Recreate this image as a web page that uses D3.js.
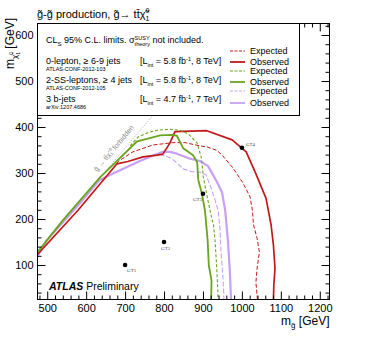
<!DOCTYPE html>
<html>
<head>
<meta charset="utf-8">
<script src="https://cdn.jsdelivr.net/npm/d3@7"></script>
<style>
body{margin:0;background:#fff;}
text{font-family:"Liberation Sans",Arial,Helvetica,sans-serif;fill:#000;white-space:pre;}
</style>
</head>
<body>
<svg id="chart" width="374" height="340"></svg>
<script>
// gluino mass (x) and neutralino mass (y), GeV
const xMajor = [500,600,700,800,900,1000,1100,1200];
const yMajor = [100,200,300,400,500,600];

const kinLine = [[475,129],[800,454]];

const lep0Obs = [[475,123],[579,219],[679,320],[707,325],[746,335],[782,339],[797,341],[815,365],[828,390],[910,392],[975,372],[1011,346],[1036,298],[1062,245],[1075,187],[1081,143],[1085,93],[1082,56],[1081,25]];
const lep0Exp = [[679,320],[682,325],[720,346],[772,361],[823,366],[854,366],[892,359],[910,357],[936,349],[949,339],[977,311],[1003,278],[1021,248],[1027,219],[1030,187],[1039,158],[1045,128],[1039,93],[1036,62],[1040,25]];

const ssObs = [[475,128],[540,197],[635,290],[731,369],[756,374],[790,382],[820,383],[833,381],[849,354],[874,339],[885,324],[888,285],[897,256],[905,219],[912,154],[915,99],[922,66],[921,25]];
const ssExp = [[713,359],[733,378],[756,387],[782,393],[815,395],[841,393],[862,385],[885,365],[896,333],[901,291],[909,256],[918,219],[927,187],[931,154],[935,99],[937,66],[939,25]];

const bjObs = [[475,119],[499,154],[584,234],[635,285],[669,299],[705,313],[738,326],[772,338],[797,346],[815,346],[833,342],[867,331],[892,326],[913,315],[935,282],[949,258],[957,219],[964,154],[969,88],[972,25]];
const bjExp = [[738,326],[784,341],[805,337],[820,331],[833,322],[849,309],[872,303],[892,302],[908,296],[921,267],[931,241],[939,219],[944,176],[946,132],[951,77],[954,25]];

const benchNames = ["GT1","GT2","GT3","GT4"];
const benchGluino = [700,800,900,1000];
const benchLsp = [100,150,255,355];

const redC = "#c31818", greenC = "#6aa41c", purpleC = "#c7a0f6";

const svg = d3.select("#chart");
const L = 37.5, R = 329.5, T = 23.5, B = 299.5;

const x = d3.scaleLinear().domain([475,1225]).range([L,R]);
const y = d3.scaleLinear().domain([25,625]).range([B,T]);

const xMinor = d3.range(480,1225,20).filter(v => v % 100 !== 0);
const yMinor = d3.range(40,625,20).filter(v => v % 100 !== 0);

// rich text helper: segments laid out left to right, 'stack' puts sup/sub on top of each other
function richLine(parent, segs){
	const g = parent.append("g");
	let cx = 0, sx = 0, sw = 0;
	segs.forEach(s => {
		const t = g.append("text")
			.attr("x", s.stack === "end" ? sx : cx)
			.attr("y", s.dy || 0)
			.attr("font-size", s.size)
			.attr("xml:space", "preserve")
			.text(s.t);
		if(s.bold) t.attr("font-weight", "bold");
		if(s.italic) t.attr("font-style", "italic");
		const w = t.node().getComputedTextLength();
		if(s.stack === "start"){ sx = cx; sw = w; }
		else if(s.stack === "end"){ cx = sx + Math.max(sw, w); }
		else cx += w;
	});
	return {g, width: cx};
}

const defs = svg.append("defs");
defs.append("clipPath").attr("id","plotClip")
	.append("rect").attr("x",L).attr("y",T).attr("width",R-L).attr("height",B-T);

const plot = svg.append("g").attr("clip-path","url(#plotClip)");
const line = d3.line().x(d => x(d[0])).y(d => y(d[1]));

plot.append("path").datum(kinLine).attr("d", line)
	.attr("fill","none").attr("stroke","#999").attr("stroke-width",0.8).attr("stroke-dasharray","1,1.5");

const curves = [
	{data: bjObs, c: purpleC, w: 2.2, dash: null},
	{data: bjExp, c: purpleC, w: 1.1, dash: "5,2"},
	{data: lep0Exp, c: redC, w: 1.0, dash: "4,2"},
	{data: lep0Obs, c: redC, w: 1.7, dash: null},
	{data: ssExp, c: greenC, w: 1.1, dash: "3,2"},
	{data: ssObs, c: greenC, w: 1.8, dash: null}
];
curves.forEach(cv => {
	plot.append("path").datum(cv.data).attr("d", line)
		.attr("fill","none").attr("stroke",cv.c).attr("stroke-width",cv.w)
		.attr("stroke-dasharray",cv.dash).attr("stroke-linejoin","round");
});

// forbidden label along the kinematic line
const ang = Math.atan2(y(kinLine[1][1]) - y(kinLine[0][1]), x(kinLine[1][0]) - x(kinLine[0][0])) * 180 / Math.PI;
svg.append("text").attr("transform",`translate(97,172) rotate(${ang})`)
	.attr("font-size",7).style("fill","#888").text("g̃ → tt̄χ̃₁⁰ forbidden");

// benchmark points
benchNames.forEach((n,i) => {
	const px = x(benchGluino[i]), py = y(benchLsp[i]);
	plot.append("circle").attr("cx",px).attr("cy",py).attr("r",2.3).attr("fill","#000");
	const off = [[2,7],[-3,8],[-10,7],[4,-2]][i];
	svg.append("text").attr("x",px+off[0]).attr("y",py+off[1])
		.attr("font-size",5).style("font-family","'Liberation Serif',serif").style("fill","#444").text(n);
});

// axes, ticks pointing inward on all sides
function styleAxis(g){ g.select(".domain").remove(); g.selectAll("line").attr("stroke","#000"); g.selectAll("text").attr("font-size",11).attr("font-family","Liberation Sans, Arial, sans-serif"); }
const fmt = d3.format("d");
svg.append("g").attr("transform",`translate(0,${B})`).call(d3.axisBottom(x).tickValues(xMajor).tickSize(-8).tickPadding(5).tickFormat(fmt)).call(styleAxis);
svg.append("g").attr("transform",`translate(0,${B})`).call(d3.axisBottom(x).tickValues(xMinor).tickSize(-4).tickFormat("")).call(styleAxis);
svg.append("g").attr("transform",`translate(0,${T})`).call(d3.axisTop(x).tickValues(xMajor).tickSize(-8).tickFormat("")).call(styleAxis);
svg.append("g").attr("transform",`translate(0,${T})`).call(d3.axisTop(x).tickValues(xMinor).tickSize(-4).tickFormat("")).call(styleAxis);
svg.append("g").attr("transform",`translate(${L},0)`).call(d3.axisLeft(y).tickValues(yMajor).tickSize(-8).tickPadding(4).tickFormat(fmt)).call(styleAxis);
svg.append("g").attr("transform",`translate(${L},0)`).call(d3.axisLeft(y).tickValues(yMinor).tickSize(-4).tickFormat("")).call(styleAxis);
svg.append("g").attr("transform",`translate(${R},0)`).call(d3.axisRight(y).tickValues(yMajor).tickSize(-8).tickFormat("")).call(styleAxis);
svg.append("g").attr("transform",`translate(${R},0)`).call(d3.axisRight(y).tickValues(yMinor).tickSize(-4).tickFormat("")).call(styleAxis);

svg.append("rect").attr("x",L).attr("y",T).attr("width",R-L).attr("height",B-T)
	.attr("fill","none").attr("stroke","#000").attr("stroke-width",1);

// legend box
const lg = svg.append("g");
lg.append("rect").attr("x",L).attr("y",T).attr("width",299.5-L).attr("height",115.5-T)
	.attr("fill","#fff").attr("stroke","#000").attr("stroke-width",1);

const l1 = richLine(lg, [
	{t:"CL", size:9}, {t:"S", size:6, dy:2.5}, {t:" 95% C.L. limits. σ", size:9},
	{t:"SUSY", size:5.5, dy:-3.5, stack:"start"}, {t:"theory", size:5.5, dy:3, stack:"end"},
	{t:" not included.", size:9}
]);
l1.g.attr("transform","translate(46,43)");

const rows = [
	{name:"0-lepton, ≥ 6-9 jets", ref:"ATLAS-CONF-2012-103", lumi:"5.8", e:"8", c:redC, y:64, ye:54, yo:65},
	{name:"2-SS-leptons, ≥ 4 jets", ref:"ATLAS-CONF-2012-105", lumi:"5.8", e:"8", c:greenC, y:83, ye:74, yo:85},
	{name:"3 b-jets", ref:"arXiv:1207.4686", lumi:"4.7", e:"7", c:purpleC, y:102, ye:94, yo:106}
];
rows.forEach(r => {
	lg.append("text").attr("x",46).attr("y",r.y).attr("font-size",9).text(r.name);
	lg.append("text").attr("x",46).attr("y",r.y+7).attr("font-size",5.5).text(r.ref);
	const lm = richLine(lg, [
		{t:"[L", size:9}, {t:"int", size:5.5, dy:2.5}, {t:" = " + r.lumi + " fb", size:9},
		{t:"-1", size:5.5, dy:-3.5}, {t:", " + r.e + " TeV]", size:9}
	]);
	lm.g.attr("transform",`translate(140,${r.y})`);
	lg.append("line").attr("x1",230).attr("x2",245).attr("y1",r.ye-3).attr("y2",r.ye-3)
		.attr("stroke",r.c).attr("stroke-width",1.1).attr("stroke-dasharray","3,1.5");
	lg.append("line").attr("x1",230).attr("x2",245).attr("y1",r.yo-3).attr("y2",r.yo-3)
		.attr("stroke",r.c).attr("stroke-width",1.8);
	lg.append("text").attr("x",250).attr("y",r.ye).attr("font-size",9).text("Expected");
	lg.append("text").attr("x",250).attr("y",r.yo).attr("font-size",9).text("Observed");
});

// title
const tt = richLine(svg, [
	{t:"g̃-g̃ production, g̃→ tt̄χ̃", size:11},
	{t:"0", size:7, dy:-5, stack:"start"}, {t:"1", size:7, dy:3, stack:"end"}
]);
tt.g.attr("transform","translate(37,18)");

// ATLAS Preliminary
const at = richLine(svg, [
	{t:"ATLAS", size:10.5, bold:true, italic:true}, {t:" Preliminary", size:10.5}
]);
at.g.attr("transform","translate(49,290)");

// axis titles
const xl = richLine(svg, [
	{t:"m", size:12}, {t:"g̃", size:8, dy:3}, {t:" [GeV]", size:12}
]);
xl.g.attr("transform",`translate(${R - xl.width},325)`);

const yl = richLine(svg, [
	{t:"m", size:12}, {t:"χ̃", size:8, dy:3},
	{t:"0", size:5, dy:-1, stack:"start"}, {t:"1", size:5, dy:6, stack:"end"},
	{t:" [GeV]", size:12}
]);
yl.g.attr("transform",`translate(14,${18 + yl.width}) rotate(-90)`);
</script>
</body>
</html>
